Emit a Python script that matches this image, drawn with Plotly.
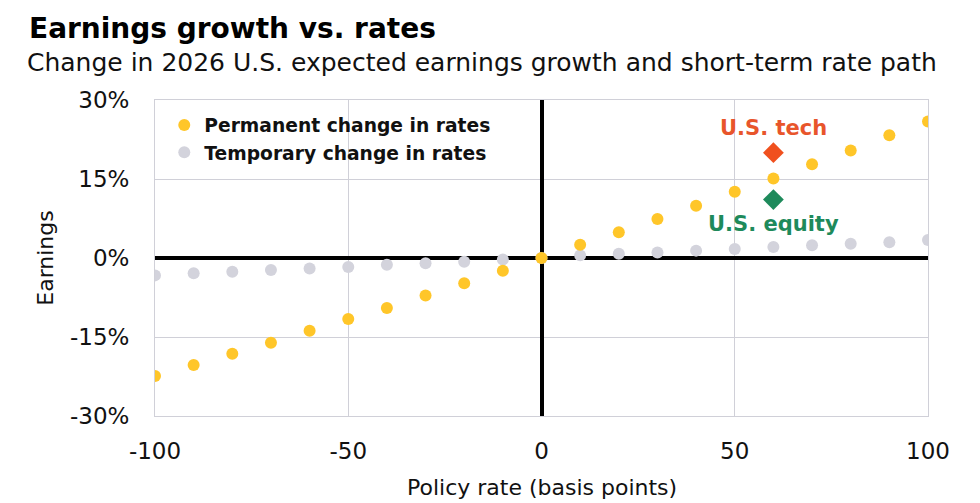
import plotly.graph_objects as go

rate_bp = [-100, -90, -80, -70, -60, -50, -40, -30, -20, -10, 0, 10, 20, 30, 40, 50, 60, 70, 80, 90, 100]
permanent = [-22.4, -20.3, -18.2, -16.1, -13.8, -11.6, -9.5, -7.1, -4.8, -2.4, 0.0,
             2.5, 4.9, 7.4, 9.9, 12.6, 15.1, 17.8, 20.4, 23.3, 25.9]
temporary = [-3.3, -2.9, -2.6, -2.3, -2.0, -1.7, -1.3, -1.0, -0.7, -0.3, 0.0,
             0.5, 0.8, 1.05, 1.4, 1.7, 2.1, 2.4, 2.7, 3.0, 3.4]
tech_x, tech_y = [60], [20.0]
equity_x, equity_y = [60], [11.1]
y_ticks = [-30, -15, 0, 15, 30]
y_tick_labels = ["-30%", "-15%", "0%", "15%", "30%"]
x_ticks = [-100, -50, 0, 50, 100]
x_tick_labels = ["-100", "-50", "0", "50", "100"]

YELLOW = "#FFC629"
GREY = "#D3D3DC"
ORANGE = "#F0501E"
GREEN = "#1E8A5B"
FONT = "DejaVu Sans"
TXT = "#111111"

fig = go.Figure()
fig.add_trace(go.Scatter(x=rate_bp, y=temporary, mode="markers", name="Temporary change in rates",
                         marker=dict(color=GREY, size=12), legendrank=2))
fig.add_trace(go.Scatter(x=rate_bp, y=permanent, mode="markers", name="Permanent change in rates",
                         marker=dict(color=YELLOW, size=12), legendrank=1))
fig.add_trace(go.Scatter(x=tech_x, y=tech_y, mode="markers", showlegend=False,
                         marker=dict(color=ORANGE, size=16, symbol="diamond")))
fig.add_trace(go.Scatter(x=equity_x, y=equity_y, mode="markers", showlegend=False,
                         marker=dict(color=GREEN, size=16, symbol="diamond")))

fig.update_layout(
    width=980, height=503,
    margin=dict(l=155, r=52, t=100, b=87),
    paper_bgcolor="white", plot_bgcolor="white",
    font=dict(family=FONT, color=TXT),
    showlegend=True,
    legend=dict(x=0.012, y=0.98, xanchor="left", yanchor="top",
                font=dict(size=18.7, family=FONT, weight=700, color=TXT),
                bgcolor="rgba(0,0,0,0)", itemsizing="constant",
                traceorder="normal", tracegroupgap=0, itemwidth=30),
    xaxis=dict(range=[-100, 100], tickvals=x_ticks, ticktext=x_tick_labels, showgrid=True,
               gridcolor="#D0D0D8", gridwidth=1, automargin=False,
               zeroline=True, zerolinecolor="#000000", zerolinewidth=4,
               showline=True, linecolor="#D0D0D8", linewidth=1, mirror=True,
               ticks="", ticklabelstandoff=14, tickfont=dict(size=23, family=FONT, color=TXT)),
    yaxis=dict(range=[-30, 30], tickvals=y_ticks, ticktext=y_tick_labels, showgrid=True,
               gridcolor="#D0D0D8", gridwidth=1,
               zeroline=True, zerolinecolor="#000000", zerolinewidth=4,
               showline=True, linecolor="#D0D0D8", linewidth=1, mirror=True,
               ticks="", ticklabelstandoff=20, tickfont=dict(size=23, family=FONT, color=TXT),
               title=dict(text="Earnings", font=dict(size=22, family=FONT, color=TXT), standoff=10)),
    annotations=[
        dict(text="Earnings growth vs. rates", xref="paper", yref="paper", x=0, y=1,
             xanchor="left", yanchor="top", showarrow=False, xshift=-128, yshift=90,
             font=dict(size=28, family=FONT, weight=700, color="#000000")),
        dict(text="Change in 2026 U.S. expected earnings growth and short-term rate path", xref="paper",
             yref="paper", x=0, y=1, xanchor="left", yanchor="top", showarrow=False,
             xshift=-130, yshift=54, font=dict(size=25, family=FONT, color=TXT)),
        dict(text="Policy rate (basis points)", xref="paper", yref="paper", x=0.5, y=0,
             xanchor="center", yanchor="top", showarrow=False, yshift=-57,
             font=dict(size=22, family=FONT, color=TXT)),
        dict(text="U.S. tech", x=tech_x[0], y=tech_y[0], xref="x", yref="y", showarrow=False,
             yshift=25, font=dict(size=21, family=FONT, weight=700, color="#E8552B")),
        dict(text="U.S. equity", x=equity_x[0], y=equity_y[0], xref="x", yref="y", showarrow=False,
             yshift=-24, font=dict(size=21, family=FONT, weight=700, color=GREEN)),
    ],
)

fig.write_html("out.html")
